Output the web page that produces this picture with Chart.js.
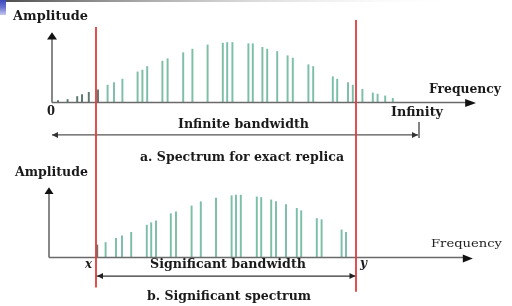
<!DOCTYPE html>
<html><head><meta charset="utf-8">
<script src="https://cdn.jsdelivr.net/npm/chart.js@4.4.1/dist/chart.umd.min.js"></script>
<style>html,body{margin:0;padding:0;background:#fff;}#wrap{position:relative;width:512px;height:306px;}canvas{display:block}</style>
</head><body><div id="wrap"><canvas id="c" width="512" height="306"></canvas></div>
<script>
// ---- data (relative frequency units, relative amplitude) ----
const topFreq = [1.5,3.9,6.3,7.5,9.2,11.5,13.9,15.5,17.6,21.4,22.6,23.8,27.6,28.9,32.8,35.1,38.9,42.7,43.8,45.1,49.1,50.2,52.6,53.8,56.3,58.9,60.2,64.1,65.3,70.2,71.3,74.0,75.2,77.6,80.2,81.4,83.3,85.2];
const topAmp  = [0.03,0.05,0.10,0.13,0.17,0.21,0.29,0.33,0.39,0.51,0.54,0.60,0.69,0.73,0.83,0.89,0.96,0.99,1.00,1.00,0.98,0.98,0.92,0.89,0.85,0.78,0.74,0.63,0.60,0.43,0.39,0.33,0.29,0.22,0.16,0.14,0.11,0.07];
const botFreq = [11.3,13.4,16.0,17.5,19.8,23.7,24.8,26.0,29.7,31.0,34.9,37.2,41.0,44.9,46.0,47.2,51.2,52.3,54.8,56.0,58.5,61.2,62.3,66.2,67.4,72.4,73.5];
const botAmp  = [0.21,0.25,0.32,0.36,0.42,0.54,0.58,0.61,0.73,0.76,0.86,0.93,0.99,1.03,1.04,1.04,1.01,1.00,0.96,0.93,0.88,0.82,0.78,0.65,0.63,0.46,0.42];
const cutoffFreq = [11, 76];            // significant band limits x, y
const infiniteBand = [0, 91.5];         // drawn extent of "infinite" bandwidth arrow
const xLabelsTop = ['0', 'Infinity'];
const cutoffLabels = ['x', 'y'];
const axisTitles = ['Amplitude', 'Frequency'];
const captions = ['a. Spectrum for exact replica', 'b. Significant spectrum'];
const bandLabels = ['Infinite bandwidth', 'Significant bandwidth'];

function barColors(freqs){ return freqs.map(f => f < 12 ? '#5d7a72' : '#7dbfa6'); }

const overlay = {
  id: 'overlay',
  beforeDraw(chart){
    const ctx = chart.ctx;
    ctx.save();
    const g = ctx.createLinearGradient(0,0,460,0);
    g.addColorStop(0,'#4a4a4a'); g.addColorStop(1,'rgba(255,255,255,0)');
    ctx.fillStyle = g; ctx.fillRect(0,0,512,2);
    const b = ctx.createLinearGradient(0,0,0,15);
    b.addColorStop(0,'#3b46b8'); b.addColorStop(0.5,'#6c74d0'); b.addColorStop(1,'#c3c7ee');
    ctx.fillStyle = b; ctx.fillRect(0,0,6,15);
    ctx.restore();
  },
  afterDatasetsDraw(chart){
    const ctx = chart.ctx, xs = chart.scales.x, yt = chart.scales.yTop, yb = chart.scales.yBot;
    const X = v => xs.getPixelForValue(v);
    const YT = v => yt.getPixelForValue(v);
    const YB = v => yb.getPixelForValue(v);
    ctx.save();
    function line(x1,y1,x2,y2,c,w){ ctx.strokeStyle=c; ctx.lineWidth=w; ctx.beginPath(); ctx.moveTo(x1,y1); ctx.lineTo(x2,y2); ctx.stroke(); }
    function tri(p,c){ ctx.fillStyle=c; ctx.beginPath(); ctx.moveTo(p[0],p[1]); ctx.lineTo(p[2],p[3]); ctx.lineTo(p[4],p[5]); ctx.closePath(); ctx.fill(); }
    const axc = '#6a6a6a';
    // top axes
    const x0 = X(0), by = YT(0);
    line(x0, by, x0, YT(1.10), axc, 1.6);
    tri([x0, YT(1.17), x0-5, YT(1.05), x0+5, YT(1.05)], '#111');
    line(x0, by, X(104), by, axc, 1.6);
    tri([X(106), by+0.5, X(103.3), by-3.5, X(103.3), by+4.5], '#111');
    // bottom axes
    const x0b = X(-0.75), bby = YB(0);
    line(x0b, bby, x0b, YB(1.06), axc, 1.6);
    tri([x0b, YB(1.17), x0b-4.5, YB(1.06), x0b+4.5, YB(1.06)], '#111');
    line(x0b, bby, X(103), bby, axc, 1.6);
    tri([X(105.2), bby+1, X(102.7), bby-3, X(102.7), bby+5], '#111');
    // infinite bandwidth arrow
    const iy = YT(-0.54);
    line(X(infiniteBand[0]), iy, X(infiniteBand[1]), iy, '#555', 1.2);
    tri([X(infiniteBand[0]), iy, X(infiniteBand[0])+6, iy-3, X(infiniteBand[0])+6, iy+3], '#333');
    tri([X(infiniteBand[1]), iy, X(infiniteBand[1])-6, iy-3, X(infiniteBand[1])-6, iy+3], '#333');
    line(X(infiniteBand[1])+1, iy-13, X(infiniteBand[1])+1, iy+3, '#333', 1.2);
    // significant bandwidth arrow
    const sy = YB(-0.31);
    line(X(cutoffFreq[0]), sy, X(cutoffFreq[1]), sy, '#333', 1.2);
    tri([X(cutoffFreq[0])+1, sy, X(cutoffFreq[0])+7, sy-3, X(cutoffFreq[0])+7, sy+3], '#222');
    tri([X(cutoffFreq[1])-0.5, sy, X(cutoffFreq[1])-6.5, sy-3, X(cutoffFreq[1])-6.5, sy+3], '#222');
    // red cutoff lines
    line(X(cutoffFreq[0]), YT(1.26), X(cutoffFreq[0]), YB(-0.5), '#e23b3b', 1.8);
    line(X(cutoffFreq[1]), YT(1.375), X(cutoffFreq[1]), YB(-0.57), '#e23b3b', 1.8);
    // texts
    function fit(t, xl, xr, base, font, col){
      ctx.font = font; ctx.fillStyle = col || '#1a1a1a'; ctx.textBaseline='alphabetic'; ctx.textAlign='left';
      const w = ctx.measureText(t).width; const s = (xr-xl)/w;
      ctx.save(); ctx.translate(xl, base); ctx.scale(s,1); ctx.fillText(t,0,0); ctx.restore();
    }
    const B = "bold 12px 'DejaVu Serif'";
    fit(axisTitles[0], 13, 88, 20, B);
    fit(axisTitles[1], 429, 501, 93, B);
    fit(xLabelsTop[0], 47, 55, 115, B);
    fit(xLabelsTop[1], 391, 443, 116, B);
    fit(bandLabels[0], 178, 309, 128, B);
    fit(captions[0], 140, 344, 161, B);
    fit(axisTitles[0], 15, 88, 176, B);
    fit(axisTitles[1], 431, 502, 247, "11.5px 'DejaVu Serif'", '#222');
    fit(cutoffLabels[0], 85, 92, 268, "bold italic 12px 'DejaVu Serif'");
    fit(cutoffLabels[1], 360, 367, 267, "bold italic 12px 'DejaVu Serif'");
    fit(bandLabels[1], 150, 306, 268, B);
    fit(captions[1], 147, 311, 300, B);
    ctx.restore();
  }
};

new Chart(document.getElementById('c'), {
  type: 'bar',
  data: {
    datasets: [
      { data: topFreq.map((f,i)=>({x:f, y:topAmp[i]})), yAxisID:'yTop', backgroundColor: barColors(topFreq), barThickness: 1.3, grouped:false, borderWidth:0 },
      { data: botFreq.map((f,i)=>({x:f, y:botAmp[i]})), yAxisID:'yBot', backgroundColor: barColors(botFreq), barThickness: 1.3, grouped:false, borderWidth:0 }
    ]
  },
  options: {
    responsive:false, animation:false, devicePixelRatio:1,
    layout:{ padding:{ left:52, right:36, top:10, bottom:6 } },
    plugins:{ legend:{display:false}, tooltip:{enabled:false} },
    scales:{
      x:{ type:'linear', min:0, max:106, offset:false, display:false },
      yTop:{ type:'linear', min:-3.2917, max:1.5417, display:false },
      yBot:{ type:'linear', min:-0.7083, max:4.125, display:false }
    }
  },
  plugins:[overlay]
});
</script></body></html>
